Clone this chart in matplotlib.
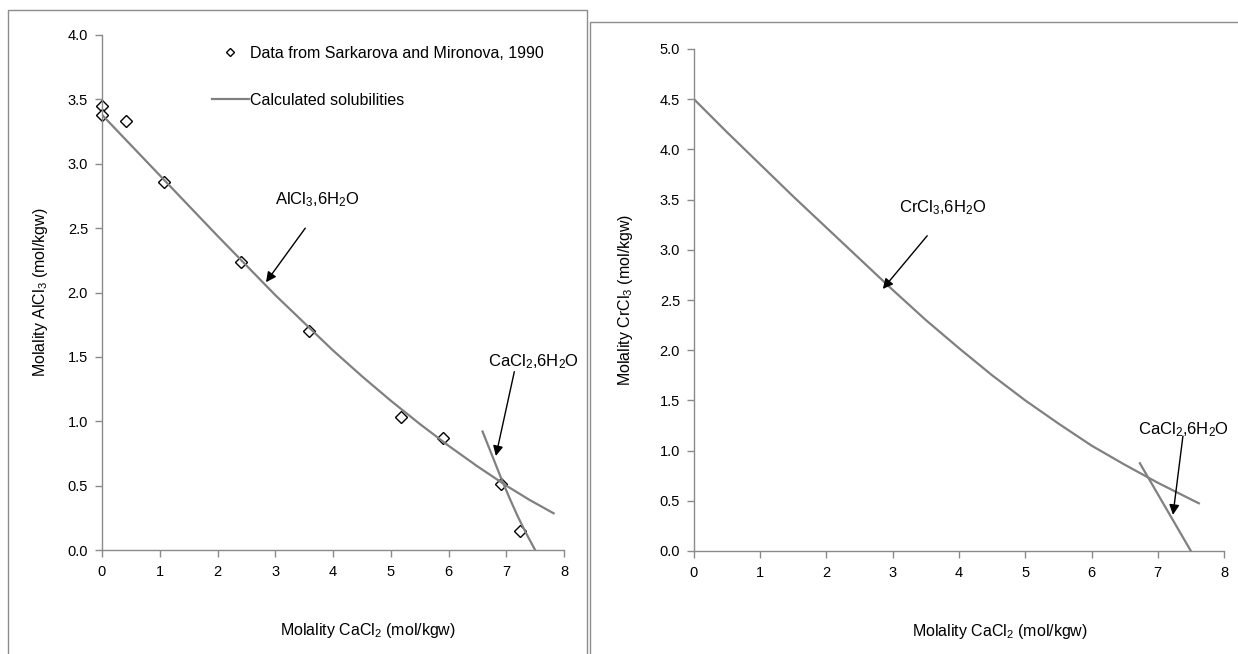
import matplotlib
matplotlib.use("Agg")
import matplotlib.pyplot as plt
from matplotlib.lines import Line2D
from matplotlib.patches import Rectangle

plt.rcParams['font.family'] = ['Liberation Sans', 'DejaVu Sans']
plt.rcParams['mathtext.fontset'] = 'custom'
plt.rcParams['mathtext.rm'] = 'Liberation Sans'
plt.rcParams['mathtext.it'] = 'Liberation Sans:italic'
plt.rcParams['mathtext.bf'] = 'Liberation Sans:bold'

GRAY = "#808080"
SPINE = "#8a8a8a"

# left panel: AlCl3 - CaCl2
obs_ca = [0.0, 0.0, 0.42, 1.08, 2.40, 3.59, 5.18, 5.91, 6.91, 7.23]
obs_al = [3.45, 3.38, 3.33, 2.86, 2.24, 1.70, 1.035, 0.87, 0.51, 0.148]

calc_al_x = [0, 0.5, 1, 1.5, 2, 2.5, 3, 3.5, 4, 4.5, 5, 5.5, 6, 6.5, 7, 7.4, 7.82]
calc_al_y = [3.38, 3.145, 2.91, 2.675, 2.44, 2.21, 1.98, 1.765, 1.55, 1.35,
             1.16, 0.98, 0.81, 0.65, 0.50, 0.39, 0.285]

calc_ca_left_x = [6.59, 6.75, 6.90, 7.05, 7.20, 7.35, 7.50]
calc_ca_left_y = [0.92, 0.74, 0.57, 0.41, 0.26, 0.125, 0.0]

# right panel: CrCl3 - CaCl2
calc_cr_x = [0, 0.5, 1, 1.5, 2, 2.5, 3, 3.5, 4, 4.5, 5, 5.5, 6, 6.5, 7, 7.62]
calc_cr_y = [4.50, 4.17, 3.85, 3.53, 3.22, 2.91, 2.60, 2.30, 2.02, 1.75,
             1.50, 1.27, 1.05, 0.86, 0.68, 0.475]

calc_ca_right_x = [6.73, 7.50]
calc_ca_right_y = [0.874, 0.0]

x_ticks = [0, 1, 2, 3, 4, 5, 6, 7, 8]


def style_axis(ax, ymax):
    for s in ['top', 'right']:
        ax.spines[s].set_visible(False)
    for s in ['left', 'bottom']:
        ax.spines[s].set_color(SPINE)
        ax.spines[s].set_linewidth(1.0)
    ax.set_xlim(0, 8)
    ax.set_ylim(0, ymax)
    ax.set_xticks(x_ticks)
    ax.set_yticks([i * 0.5 for i in range(int(ymax / 0.5) + 1)])
    ax.yaxis.set_major_formatter(matplotlib.ticker.FormatStrFormatter('%.1f'))
    ax.tick_params(direction='out', length=5, width=1.0, color=SPINE,
                   labelsize=10.5, labelcolor='black')
    ax.tick_params(axis='x', pad=6)
    ax.tick_params(axis='y', pad=5)
    ax.patch.set_visible(False)


def arrow(ax, tail, head):
    ax.annotate('', xy=head, xytext=tail,
                arrowprops=dict(arrowstyle='-|>', color='black', lw=1.0,
                                mutation_scale=15, shrinkA=0, shrinkB=0))


fig = plt.figure(figsize=(12.38, 6.54), dpi=100)

# panel frames
fig.add_artist(Rectangle((8 / 1238, -0.05), 579 / 1238, 1 - 10 / 654 + 0.05,
                         transform=fig.transFigure, fill=False,
                         edgecolor='#8c8c8c', lw=1.0))
fig.add_artist(Rectangle((590 / 1238, -0.05), 0.6, 1 - 22 / 654 + 0.05,
                         transform=fig.transFigure, fill=False,
                         edgecolor='#8c8c8c', lw=1.0))

ax1 = fig.add_axes([102 / 1238, 1 - 550 / 654, 462 / 1238, 515 / 654])
ax2 = fig.add_axes([694 / 1238, 1 - 551 / 654, 530 / 1238, 502 / 654])

# left
ax1.plot(obs_ca, obs_al, ls='none', marker='D', ms=6.2, mfc='white',
         mec='black', mew=1.0, zorder=2, clip_on=False)
ax1.plot(calc_al_x, calc_al_y, color=GRAY, lw=1.6, zorder=3)
ax1.plot(calc_ca_left_x, calc_ca_left_y, color=GRAY, lw=1.6, zorder=3)
style_axis(ax1, 4.0)
ax1.set_xlabel('Molality CaCl$_2$ (mol/kgw)', fontsize=11.5)
ax1.xaxis.set_label_coords(0.576, -0.138)
ax1.set_ylabel('Molality AlCl$_3$ (mol/kgw)', fontsize=11.5)
ax1.yaxis.set_label_coords(-0.112, 0.5)

ax1.text(3.73, 2.72, 'AlCl$_3$,6H$_2$O', fontsize=12, ha='center', va='center')
arrow(ax1, (3.52, 2.50), (2.84, 2.08))
ax1.text(7.48, 1.46, 'CaCl$_2$,6H$_2$O', fontsize=12, ha='center', va='center')
arrow(ax1, (7.14, 1.385), (6.82, 0.73))

handles = [Line2D([], [], ls='none', marker='D', ms=4.4, mfc='white',
                  mec='black', mew=1.0),
           Line2D([], [], color=GRAY, lw=1.6)]
ax1.legend(handles, ['Data from Sarkarova and Mironova, 1990',
                     'Calculated solubilities'],
           loc='upper left', bbox_to_anchor=(212 / 1238, 1 - 46 / 654),
           bbox_transform=fig.transFigure, frameon=False, fontsize=11.5,
           borderpad=0, borderaxespad=0, handlelength=2.3, handletextpad=0.05,
           labelspacing=2.0)

# right
ax2.plot(calc_cr_x, calc_cr_y, color=GRAY, lw=1.6)
ax2.plot(calc_ca_right_x, calc_ca_right_y, color=GRAY, lw=1.6)
style_axis(ax2, 5.0)
ax2.set_xlabel('Molality CaCl$_2$ (mol/kgw)', fontsize=11.5)
ax2.xaxis.set_label_coords(0.577, -0.141)
ax2.set_ylabel('Molality CrCl$_3$ (mol/kgw)', fontsize=11.5)
ax2.yaxis.set_label_coords(-0.111, 0.5)

ax2.text(3.75, 3.42, 'CrCl$_3$,6H$_2$O', fontsize=12, ha='center', va='center')
arrow(ax2, (3.52, 3.14), (2.85, 2.61))
ax2.text(7.39, 1.205, 'CaCl$_2$,6H$_2$O', fontsize=12, ha='center', va='center')
arrow(ax2, (7.38, 1.145), (7.23, 0.36))

fig.savefig('out.png', dpi=100)
